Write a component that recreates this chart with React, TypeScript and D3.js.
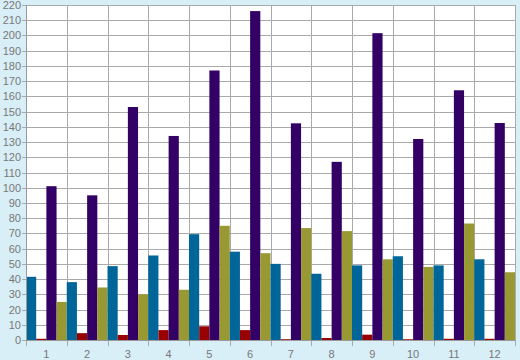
import React from "react";
import * as d3 from "d3";

const categories = ["1", "2", "3", "4", "5", "6", "7", "8", "9", "10", "11", "12"];
const seriesNames = ["A", "B", "C", "D"];
const seriesA = [41.5, 38, 48.5, 55.5, 69.5, 58, 50, 43.5, 49, 55, 49, 53];
const seriesB = [0.8, 4.5, 3.3, 6.5, 9, 6.5, 0.5, 1.3, 3.5, 0.5, 0.8, 0.8];
const seriesC = [101, 95, 153, 134, 177, 216, 142.3, 117, 201.5, 132, 164, 142.5];
const seriesD = [25, 34.5, 30, 33, 75, 57, 73.5, 71.5, 53, 48, 76.5, 44.5];
const yTicks = d3.range(0, 221, 10);

const colors = ["#006699", "#990000", "#330066", "#999933"];

export default function App() {
  const W = 520, H = 360;
  const left = 26, right = 515, top = 5, bottom = 340;
  const x = d3.scaleBand<string>().domain(categories).range([left, right]).padding(0);
  const xs = d3.scaleBand<string>().domain(seriesNames).range([0, x.bandwidth()]).padding(0);
  const y = d3.scaleLinear().domain([0, 220]).range([bottom, top]);
  const data = [seriesA, seriesB, seriesC, seriesD];
  const font = "'Liberation Sans', Arial, sans-serif";
  const boundaries = categories.map((c) => x(c)!).concat([right]);

  return (
    <svg width={W} height={H} style={{ position: "fixed", left: 0, top: 0, display: "block" }}>
      <rect x={0} y={0} width={W} height={H} fill="#d9eff7" />
      <rect x={left} y={top} width={right - left} height={bottom - top} fill="#ffffff" />
      {yTicks.map((t) => (
        <line key={"gy" + t} x1={left - 4} x2={right} y1={Math.round(y(t)) + 0.5} y2={Math.round(y(t)) + 0.5} stroke="#aaaaaa" strokeWidth={1} />
      ))}
      {boundaries.map((b, i) => (
        <line key={"gx" + i} x1={Math.round(b) + 0.5} x2={Math.round(b) + 0.5} y1={top} y2={bottom + 6} stroke="#aaaaaa" strokeWidth={1} />
      ))}
      {categories.map((c, i) =>
        data.map((s, j) => (
          <rect
            key={c + "-" + j}
            x={x(c)! + xs(seriesNames[j])!}
            y={y(s[i])}
            width={xs.bandwidth()}
            height={bottom - y(s[i])}
            fill={colors[j]}
          />
        ))
      )}
      <line x1={left + 0.5} x2={left + 0.5} y1={top} y2={bottom} stroke="#999999" />
      <line x1={left} x2={right} y1={bottom + 0.5} y2={bottom + 0.5} stroke="#999999" />
      {yTicks.map((t) => (
        <text key={"ty" + t} x={21} y={y(t) + 4} textAnchor="end" fontFamily={font} fontSize={11} fill="#777777">
          {t}
        </text>
      ))}
      {categories.map((c) => (
        <text key={"tx" + c} x={x(c)! + x.bandwidth() / 2} y={358} textAnchor="middle" fontFamily={font} fontSize={11} fill="#777777">
          {c}
        </text>
      ))}
    </svg>
  );
}
